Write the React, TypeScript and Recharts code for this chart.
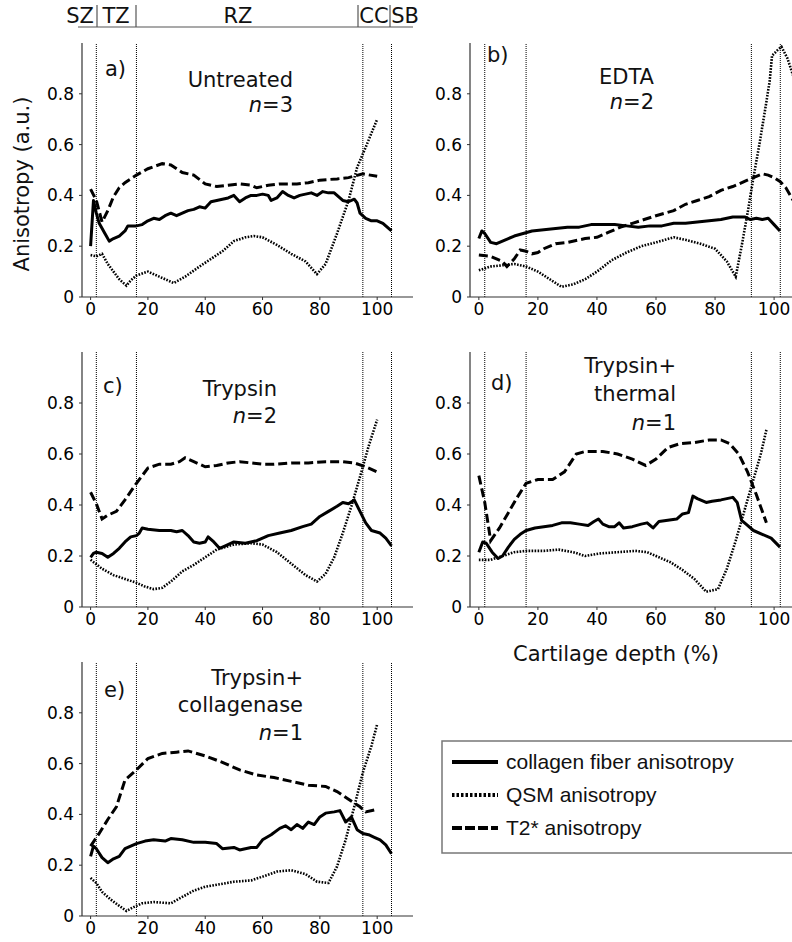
import { LineChart, Line, XAxis, YAxis, ReferenceLine } from 'recharts';

type Pt = [number, number];

// depth (%) / anisotropy pairs for each panel
const aCollagen: Pt[] = [
  [0, 0.2], [1, 0.38], [2, 0.33], [3, 0.29], [5, 0.25], [6.5, 0.22], [8, 0.23], [10, 0.24],
  [12, 0.26], [13, 0.28], [16, 0.28], [18, 0.285], [20, 0.3], [22, 0.31], [24, 0.305], [26, 0.32],
  [28, 0.33], [30, 0.32], [32, 0.33], [34, 0.34], [36, 0.345], [38, 0.355], [40, 0.35], [42, 0.375],
  [44, 0.38], [46, 0.385], [48, 0.39], [50, 0.4], [52, 0.375], [54, 0.39], [56, 0.4], [58, 0.4],
  [60, 0.405], [62, 0.4], [63, 0.38], [65, 0.39], [67, 0.415], [69, 0.4], [71, 0.39], [73, 0.4],
  [75, 0.405], [77, 0.41], [79, 0.4], [81, 0.415], [83, 0.41], [85, 0.41], [86, 0.4], [88, 0.38],
  [90, 0.375], [92, 0.385], [93, 0.37], [94, 0.33], [96, 0.31], [98, 0.3], [100, 0.3], [102, 0.29],
  [104, 0.27], [105, 0.26],
];
const aQsm: Pt[] = [
  [0, 0.165], [2, 0.16], [4, 0.17], [6, 0.13], [8, 0.1], [10, 0.07], [12.5, 0.045], [14, 0.065],
  [16, 0.085], [20, 0.1], [24, 0.08], [29, 0.055], [33, 0.08], [38, 0.12], [42, 0.15], [46, 0.18],
  [50, 0.22], [54, 0.235], [57, 0.24], [60, 0.235], [65, 0.205], [70, 0.17], [75, 0.14], [79, 0.09],
  [82, 0.13], [86, 0.25], [90, 0.38], [93, 0.51], [96, 0.59], [100, 0.7],
];
const aT2: Pt[] = [
  [0, 0.425], [2, 0.38], [4, 0.295], [6, 0.34], [8, 0.395], [10, 0.43], [12, 0.45], [16, 0.48],
  [20, 0.505], [25, 0.525], [28, 0.52], [32, 0.49], [36, 0.48], [40, 0.445], [44, 0.435], [48, 0.44],
  [52, 0.445], [56, 0.44], [58, 0.43], [62, 0.44], [66, 0.445], [72, 0.445], [76, 0.45], [80, 0.46],
  [86, 0.465], [90, 0.47], [95, 0.485], [100, 0.475],
];

const bCollagen: Pt[] = [
  [0, 0.23], [1, 0.26], [2, 0.25], [4, 0.215], [6, 0.21], [8, 0.22], [10, 0.23], [12, 0.24],
  [15, 0.25], [18, 0.26], [22, 0.265], [26, 0.27], [30, 0.275], [34, 0.275], [38, 0.285], [42, 0.285],
  [46, 0.285], [50, 0.28], [54, 0.275], [58, 0.28], [62, 0.28], [66, 0.29], [70, 0.29], [74, 0.295],
  [78, 0.3], [82, 0.305], [86, 0.315], [90, 0.315], [92, 0.305], [94, 0.31], [96, 0.305], [98, 0.31],
  [100, 0.285], [102, 0.26],
];
const bQsm: Pt[] = [
  [0, 0.105], [4, 0.12], [8, 0.125], [12, 0.13], [16, 0.12], [20, 0.1], [24, 0.07], [28, 0.04],
  [32, 0.05], [36, 0.07], [40, 0.1], [45, 0.145], [50, 0.175], [55, 0.2], [60, 0.215], [66, 0.235],
  [70, 0.225], [75, 0.21], [80, 0.19], [84, 0.14], [87, 0.08], [89, 0.2], [91, 0.33], [93, 0.47],
  [95, 0.6], [97, 0.74], [98.5, 0.85], [99.3, 0.95], [101, 0.97], [102.5, 0.985], [104.5, 0.94],
  [106.5, 0.87], [108, 0.8],
];
const bT2: Pt[] = [
  [0, 0.165], [4, 0.16], [8, 0.14], [9.5, 0.12], [12, 0.15], [14, 0.185], [16, 0.18], [18, 0.17],
  [20, 0.175], [22, 0.19], [26, 0.21], [30, 0.215], [36, 0.23], [40, 0.235], [44, 0.255], [48, 0.275],
  [52, 0.29], [56, 0.305], [60, 0.32], [66, 0.34], [70, 0.365], [74, 0.38], [78, 0.395], [82, 0.42],
  [86, 0.435], [90, 0.455], [94, 0.475], [96, 0.485], [98, 0.48], [100, 0.47], [102, 0.455],
  [104, 0.43], [106, 0.39], [108, 0.35],
];

const cCollagen: Pt[] = [
  [0, 0.195], [1, 0.21], [2, 0.215], [4, 0.21], [6, 0.195], [8, 0.21], [10, 0.23], [12, 0.255],
  [14, 0.275], [16, 0.28], [17, 0.29], [18, 0.31], [20, 0.305], [24, 0.3], [28, 0.3], [30, 0.295],
  [32, 0.3], [34, 0.28], [36, 0.255], [38, 0.25], [40, 0.255], [41, 0.275], [43, 0.255], [45, 0.23],
  [47, 0.24], [50, 0.255], [54, 0.25], [58, 0.26], [62, 0.28], [66, 0.29], [70, 0.3], [74, 0.315],
  [77, 0.325], [80, 0.355], [83, 0.375], [86, 0.395], [88, 0.41], [90, 0.405], [92, 0.42], [94, 0.375],
  [96, 0.33], [98, 0.3], [101, 0.29], [103, 0.27], [105, 0.24],
];
const cQsm: Pt[] = [
  [0, 0.185], [4, 0.15], [8, 0.125], [12, 0.11], [16, 0.095], [19, 0.08], [22, 0.07], [25, 0.075],
  [28, 0.1], [32, 0.14], [36, 0.165], [40, 0.195], [44, 0.225], [50, 0.245], [56, 0.25], [60, 0.245],
  [65, 0.215], [70, 0.17], [75, 0.125], [79, 0.1], [82, 0.13], [85, 0.195], [88, 0.29], [91, 0.395],
  [94, 0.51], [97, 0.63], [100, 0.735],
];
const cT2: Pt[] = [
  [0, 0.45], [2, 0.405], [4, 0.345], [6, 0.36], [9, 0.375], [12, 0.42], [16, 0.485], [20, 0.545],
  [24, 0.56], [28, 0.56], [31, 0.57], [33, 0.585], [36, 0.57], [40, 0.55], [44, 0.555], [48, 0.565],
  [52, 0.57], [56, 0.565], [60, 0.56], [64, 0.56], [70, 0.565], [76, 0.565], [82, 0.57], [88, 0.57],
  [92, 0.565], [96, 0.55], [100, 0.53],
];

const dCollagen: Pt[] = [
  [0, 0.215], [1.3, 0.255], [2.5, 0.25], [4.5, 0.215], [6.5, 0.19], [8, 0.2], [10, 0.235], [12, 0.265],
  [14, 0.285], [16, 0.3], [19, 0.31], [22, 0.315], [25, 0.32], [28, 0.33], [31, 0.33], [34, 0.325],
  [37, 0.32], [39, 0.335], [40.5, 0.345], [42, 0.325], [44, 0.315], [46, 0.315], [47.5, 0.33],
  [49, 0.31], [52, 0.315], [55, 0.325], [57, 0.33], [59, 0.31], [61, 0.335], [64, 0.34], [67, 0.345],
  [69, 0.365], [71, 0.37], [72.5, 0.435], [74, 0.425], [77, 0.41], [79, 0.415], [82, 0.42], [84, 0.425],
  [86, 0.43], [87.5, 0.41], [89, 0.34], [91, 0.32], [93, 0.3], [96, 0.285], [99, 0.27], [102, 0.235],
];
const dQsm: Pt[] = [
  [0, 0.185], [4, 0.185], [8, 0.2], [12, 0.215], [16, 0.22], [22, 0.22], [27, 0.225], [32, 0.215],
  [36, 0.2], [41, 0.21], [47, 0.215], [53, 0.22], [57, 0.215], [61, 0.195], [65, 0.175], [69, 0.145],
  [73, 0.11], [77, 0.06], [81, 0.07], [84, 0.15], [87, 0.26], [90, 0.38], [93, 0.5], [95.5, 0.6],
  [97.4, 0.695],
];
const dT2: Pt[] = [
  [0, 0.515], [2, 0.41], [4, 0.26], [7, 0.31], [10, 0.37], [13, 0.43], [16, 0.485], [20, 0.5],
  [25, 0.5], [29, 0.53], [33, 0.6], [36, 0.61], [42, 0.61], [47, 0.6], [52, 0.58], [56.5, 0.555],
  [60, 0.58], [64, 0.625], [68, 0.64], [73, 0.645], [78, 0.655], [82, 0.655], [85, 0.64], [88, 0.6],
  [91, 0.53], [94, 0.44], [97.4, 0.33],
];

const eCollagen: Pt[] = [
  [0, 0.235], [1, 0.275], [2, 0.265], [4, 0.23], [6, 0.21], [8, 0.225], [10, 0.235], [12, 0.265],
  [14, 0.275], [16, 0.285], [19, 0.295], [22, 0.3], [26, 0.295], [28, 0.305], [32, 0.3], [36, 0.29],
  [40, 0.29], [44, 0.285], [46, 0.265], [50, 0.27], [52, 0.26], [56, 0.27], [58, 0.27], [60, 0.3],
  [63, 0.32], [66, 0.345], [68, 0.355], [70, 0.34], [72, 0.36], [74, 0.345], [76, 0.37], [78, 0.36],
  [80, 0.39], [82, 0.405], [85, 0.41], [87, 0.415], [89, 0.37], [91, 0.39], [93, 0.34], [95, 0.325],
  [97, 0.32], [99, 0.31], [101, 0.3], [103, 0.28], [105, 0.245],
];
const eQsm: Pt[] = [
  [0, 0.15], [2, 0.13], [4, 0.095], [7, 0.065], [10, 0.04], [12.5, 0.02], [15, 0.035], [18, 0.05],
  [22, 0.055], [28, 0.05], [32, 0.075], [36, 0.1], [40, 0.115], [45, 0.125], [50, 0.135], [56, 0.14],
  [60, 0.155], [65, 0.175], [70, 0.18], [75, 0.165], [79, 0.135], [83, 0.13], [86, 0.195], [89, 0.3],
  [92, 0.43], [95, 0.565], [98, 0.67], [100, 0.755],
];
const eT2: Pt[] = [
  [0, 0.275], [3, 0.325], [6, 0.38], [9, 0.43], [12, 0.535], [16, 0.575], [20, 0.62], [25, 0.64],
  [30, 0.645], [34, 0.65], [40, 0.63], [46, 0.605], [52, 0.575], [58, 0.555], [64, 0.545], [70, 0.53],
  [76, 0.515], [82, 0.51], [86, 0.49], [90, 0.46], [94, 0.43], [96, 0.41], [100, 0.42],
];

const X_TICKS = [0, 20, 40, 60, 80, 100];
const Y_TICKS = [0, 0.2, 0.4, 0.6, 0.8];
const ZONES = [2, 16, 95, 105];
const ZONES_BD = [2, 16, 92.3, 102.1];

const SERIES_NAMES = ['collagen fiber anisotropy', 'QSM anisotropy', 'T2* anisotropy'];

const FONT = '"DejaVu Sans", Verdana, sans-serif';
const LEGEND_FONT = '"Liberation Sans", Arial, sans-serif';

const toRows = (pts: Pt[]) => pts.map(([x, y]) => ({ x, y }));

interface PanelProps {
  left: number;
  top: number;
  plotW: number;
  plotH: number;
  collagen: Pt[];
  qsm: Pt[];
  t2: Pt[];
  zones: number[];
}

function Panel({ left, top, plotW, plotH, collagen, qsm, t2, zones }: PanelProps) {
  const yw = 82;
  const mt = 20;
  const tick = { fill: '#000', fontSize: 17, fontFamily: FONT };
  return (
    <div style={{ position: 'absolute', left: left - yw, top: top - mt }}>
      <LineChart
        width={yw + plotW + 10}
        height={mt + plotH + 40}
        margin={{ top: mt, right: 10, bottom: 10, left: 0 }}
      >
        <XAxis
          type="number"
          dataKey="x"
          domain={[-3, 112.5]}
          ticks={X_TICKS}
          allowDataOverflow
          height={30}
          tickSize={3}
          tickMargin={3}
          tick={tick}
          axisLine={{ stroke: '#333', strokeWidth: 1.2 }}
          tickLine={{ stroke: '#333' }}
        />
        <YAxis
          type="number"
          domain={[0, 1]}
          ticks={Y_TICKS}
          allowDataOverflow
          width={yw}
          tickSize={3}
          tickMargin={5}
          tick={tick}
          axisLine={{ stroke: '#333', strokeWidth: 1.2 }}
          tickLine={{ stroke: '#333' }}
        />
        {zones.map((z) => (
          <ReferenceLine key={z} x={z} stroke="#000" strokeWidth={1} strokeDasharray="1 1" />
        ))}
        <Line
          data={toRows(qsm)}
          dataKey="y"
          name={SERIES_NAMES[1]}
          stroke="#000"
          strokeWidth={2.6}
          strokeDasharray="1.6 1.4"
          dot={false}
          isAnimationActive={false}
        />
        <Line
          data={toRows(t2)}
          dataKey="y"
          name={SERIES_NAMES[2]}
          stroke="#000"
          strokeWidth={3}
          strokeDasharray="9 4"
          dot={false}
          isAnimationActive={false}
        />
        <Line
          data={toRows(collagen)}
          dataKey="y"
          name={SERIES_NAMES[0]}
          stroke="#000"
          strokeWidth={3}
          strokeLinejoin="round"
          dot={false}
          isAnimationActive={false}
        />
      </LineChart>
    </div>
  );
}

export default function App() {
  const t = { fontFamily: FONT, fontSize: 21, fill: '#111' };
  return (
    <div
      style={{
        position: 'absolute',
        left: 0,
        top: 0,
        width: 792,
        height: 942,
        overflow: 'hidden',
        background: '#fff',
      }}
    >
      <Panel left={82} top={43} plotW={331} plotH={254} collagen={aCollagen} qsm={aQsm} t2={aT2} zones={ZONES} />
      <Panel left={470} top={43} plotW={341} plotH={254} collagen={bCollagen} qsm={bQsm} t2={bT2} zones={ZONES_BD} />
      <Panel left={82} top={352} plotW={331} plotH={255} collagen={cCollagen} qsm={cQsm} t2={cT2} zones={ZONES} />
      <Panel left={470} top={352} plotW={341} plotH={255} collagen={dCollagen} qsm={dQsm} t2={dT2} zones={ZONES_BD} />
      <Panel left={82} top={662} plotW={331} plotH={254} collagen={eCollagen} qsm={eQsm} t2={eT2} zones={ZONES} />

      <svg width={792} height={942} style={{ position: 'absolute', left: 0, top: 0, pointerEvents: 'none' }}>
        {/* zone bar */}
        <line x1={78} x2={413} y1={27} y2={27} stroke="#555" strokeWidth={1.2} />
        {[97, 136, 358, 390].map((x) => (
          <line key={x} x1={x} x2={x} y1={5} y2={27} stroke="#555" strokeWidth={1.2} />
        ))}
        <text {...t} x={80} y={23} textAnchor="middle">SZ</text>
        <text {...t} x={116} y={23} textAnchor="middle">TZ</text>
        <text {...t} x={238} y={23} textAnchor="middle">RZ</text>
        <text {...t} x={374} y={23} textAnchor="middle">CC</text>
        <text {...t} x={405} y={23} textAnchor="middle">SB</text>

        {/* axis titles */}
        <text {...t} transform="translate(29 184) rotate(-90)" textAnchor="middle">Anisotropy (a.u.)</text>
        <text {...t} x={616} y={661} textAnchor="middle">Cartilage depth (%)</text>

        {/* panel captions */}
        <text {...t} x={105} y={76}>a)</text>
        <text {...t} x={293} y={87} textAnchor="end">Untreated</text>
        <text {...t} x={293} y={112} textAnchor="end"><tspan fontStyle="italic">n</tspan>=3</text>

        <text {...t} x={487} y={62}>b)</text>
        <text {...t} x={654} y={84} textAnchor="end">EDTA</text>
        <text {...t} x={654} y={109} textAnchor="end"><tspan fontStyle="italic">n</tspan>=2</text>

        <text {...t} x={103} y={393}>c)</text>
        <text {...t} x={277} y={396} textAnchor="end">Trypsin</text>
        <text {...t} x={277} y={423} textAnchor="end"><tspan fontStyle="italic">n</tspan>=2</text>

        <text {...t} x={491} y={390}>d)</text>
        <text {...t} x={676} y={373} textAnchor="end">Trypsin+</text>
        <text {...t} x={676} y={401} textAnchor="end">thermal</text>
        <text {...t} x={676} y={430} textAnchor="end"><tspan fontStyle="italic">n</tspan>=1</text>

        <text {...t} x={104} y={697}>e)</text>
        <text {...t} x={303} y={685} textAnchor="end">Trypsin+</text>
        <text {...t} x={303} y={712} textAnchor="end">collagenase</text>
        <text {...t} x={303} y={740} textAnchor="end"><tspan fontStyle="italic">n</tspan>=1</text>

        {/* legend */}
        <rect x={442} y={741} width={400} height={112} fill="#fff" stroke="#777" strokeWidth={1.5} />
        <line x1={452} x2={498} y1={762} y2={762} stroke="#000" strokeWidth={4} />
        <line x1={452} x2={498} y1={795} y2={795} stroke="#000" strokeWidth={4} strokeDasharray="2.5 2" />
        <line x1={452} x2={498} y1={828} y2={828} stroke="#000" strokeWidth={4} strokeDasharray="10 3" />
        {SERIES_NAMES.map((name, i) => (
          <text key={name} x={506} y={769 + i * 33} fontFamily={LEGEND_FONT} fontSize={21} fill="#111">
            {name}
          </text>
        ))}
      </svg>
    </div>
  );
}
